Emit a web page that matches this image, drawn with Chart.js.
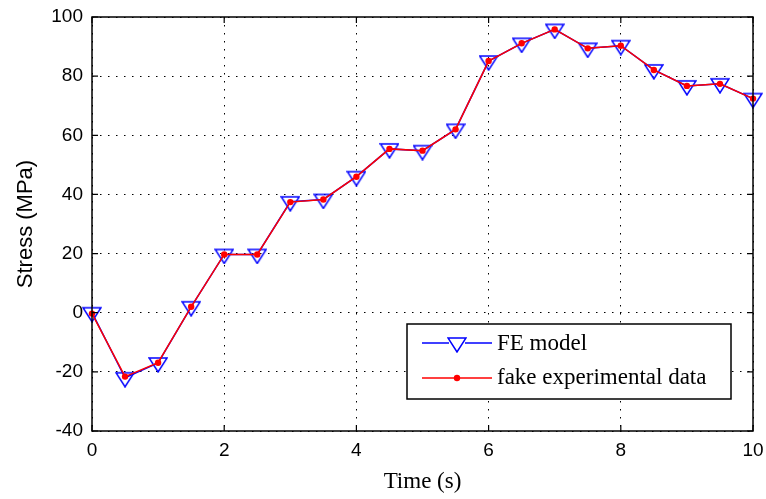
<!DOCTYPE html>
<html>
<head>
<meta charset="utf-8">
<script src="https://cdn.jsdelivr.net/npm/chart.js@4.4.1/dist/chart.umd.min.js"></script>
<style>
  html, body { margin: 0; padding: 0; background: #fff; }
  #wrap { width: 766px; height: 499px; }
</style>
</head>
<body>
<div id="wrap"><canvas id="chart" width="766" height="499"></canvas></div>
<script>
// time samples (s)
const times = [0, 0.5, 1, 1.5, 2, 2.5, 3, 3.5, 4, 4.5, 5, 5.5, 6, 6.5, 7, 7.5, 8, 8.5, 9, 9.5, 10];
// stress values (MPa)
const feModel = [0, -22, -17, 2, 19.7, 19.7, 37.5, 38.3, 46, 55.4, 54.8, 62, 85.1, 91.1, 95.8, 89.4, 90.3, 82.1, 76.7, 77.4, 72.4];
const fakeExp = [-0.3, -21.6, -16.9, 2, 19.7, 19.7, 37.4, 38.3, 46, 55.4, 54.8, 62, 85.1, 91.1, 95.8, 89.4, 90.3, 82.1, 76.7, 77.4, 72.4];
const xTicks = [0, 2, 4, 6, 8, 10];
const yTicks = [-40, -20, 0, 20, 40, 60, 80, 100];
const legendLabels = ['FE model', 'fake experimental data'];

const BLUE = '#0000ff';
const RED = '#ff0000';
const tickFont = { family: 'Liberation Sans, Arial, sans-serif', size: 19 };

// downward triangle marker; sits a little below its point, as in the picture
const triMarker = document.createElement('canvas');
triMarker.width = 20;
triMarker.height = 20;
(function () {
  const c = triMarker.getContext('2d');
  c.strokeStyle = BLUE;
  c.lineWidth = 1.5;
  c.beginPath();
  c.moveTo(1, 5);
  c.lineTo(19, 5);
  c.lineTo(10, 19);
  c.closePath();
  c.stroke();
})();

// box, inward ticks and the legend
const matlabAxes = {
  id: 'matlabAxes',
  afterDraw(chart) {
    const ctx = chart.ctx;
    const a = chart.chartArea;
    const xs = chart.scales.x, ys = chart.scales.y;
    ctx.save();
    ctx.strokeStyle = '#000';
    ctx.lineWidth = 1.5;
    ctx.strokeRect(a.left, a.top, a.right - a.left, a.bottom - a.top);
    ctx.lineWidth = 1.2;
    ctx.beginPath();
    xTicks.forEach(v => {
      const px = xs.getPixelForValue(v);
      ctx.moveTo(px, a.bottom); ctx.lineTo(px, a.bottom - 6);
      ctx.moveTo(px, a.top); ctx.lineTo(px, a.top + 6);
    });
    yTicks.forEach(v => {
      const py = ys.getPixelForValue(v);
      ctx.moveTo(a.left, py); ctx.lineTo(a.left + 6, py);
      ctx.moveTo(a.right, py); ctx.lineTo(a.right - 6, py);
    });
    ctx.stroke();

    // legend
    const bx = a.right - 346, by = a.bottom - 107, bw = 324, bh = 75;
    ctx.fillStyle = '#fff';
    ctx.fillRect(bx, by, bw, bh);
    ctx.lineWidth = 1.5;
    ctx.strokeRect(bx, by, bw, bh);
    const rows = [by + 19, by + 54];
    const lx1 = bx + 15, lx2 = bx + 85, mx = bx + 50;
    ctx.lineWidth = 1.5;
    ctx.strokeStyle = BLUE;
    ctx.beginPath(); ctx.moveTo(lx1, rows[0]); ctx.lineTo(lx2, rows[0]); ctx.stroke();
    ctx.fillStyle = '#fff';
    ctx.fillRect(mx - 8, rows[0] - 4, 16, 12);
    ctx.drawImage(triMarker, mx - 10, rows[0] - 10);
    ctx.strokeStyle = RED;
    ctx.beginPath(); ctx.moveTo(lx1, rows[1]); ctx.lineTo(lx2, rows[1]); ctx.stroke();
    ctx.fillStyle = RED;
    ctx.beginPath(); ctx.arc(mx, rows[1], 3.2, 0, Math.PI * 2); ctx.fill();

    ctx.fillStyle = '#000';
    ctx.font = '23px "Liberation Serif", "Times New Roman", serif';
    ctx.textBaseline = 'middle';
    ctx.textAlign = 'left';
    ctx.fillText(legendLabels[0], bx + 90, rows[0] + 1);
    ctx.fillText(legendLabels[1], bx + 90, rows[1]);
    ctx.restore();
  }
};

const ctx = document.getElementById('chart').getContext('2d');
new Chart(ctx, {
  type: 'line',
  data: {
    datasets: [{
      label: legendLabels[0],
      data: times.map((t, i) => ({ x: t, y: feModel[i] })),
      borderColor: BLUE,
      borderWidth: 1.5,
      pointStyle: triMarker,
      pointRadius: 9,
      tension: 0,
      clip: false,
      order: 2
    }, {
      label: legendLabels[1],
      data: times.map((t, i) => ({ x: t, y: fakeExp[i] })),
      borderColor: RED,
      borderWidth: 1.5,
      pointStyle: 'circle',
      pointRadius: 3.2,
      pointBorderWidth: 0,
      pointBackgroundColor: RED,
      tension: 0,
      clip: false,
      order: 1
    }]
  },
  options: {
    responsive: false,
    animation: false,
    events: [],
    layout: { padding: { top: 17, right: 13, bottom: 0, left: 0 } },
    plugins: {
      legend: { display: false },
      tooltip: { enabled: false }
    },
    scales: {
      x: {
        type: 'linear',
        min: 0,
        max: 10,
        afterBuildTicks(scale) { scale.ticks = xTicks.map(v => ({ value: v })); },
        afterFit(scale) {
          scale.height = 68;
          scale.paddingLeft = 0;
          scale.paddingRight = 0;
        },
        ticks: { color: '#000', font: tickFont, padding: 8, maxRotation: 0 },
        grid: { color: '#000', lineWidth: 1, drawTicks: false },
        border: { display: false, dash: [1.5, 6.5] },
        title: {
          display: true,
          text: 'Time (s)',
          color: '#000',
          font: { family: 'Liberation Serif, Times New Roman, serif', size: 23 },
          padding: { top: 0, bottom: 3 }
        }
      },
      y: {
        type: 'linear',
        min: -40,
        max: 100,
        afterBuildTicks(scale) { scale.ticks = yTicks.map(v => ({ value: v })); },
        afterFit(scale) {
          scale.width = 92;
          scale.paddingTop = 0;
          scale.paddingBottom = 0;
        },
        ticks: { color: '#000', font: tickFont, padding: 9 },
        grid: { color: '#000', lineWidth: 1, drawTicks: false },
        border: { display: false, dash: [1.5, 6.5] },
        title: {
          display: true,
          text: 'Stress (MPa)',
          color: '#000',
          font: { family: 'Liberation Sans, Arial, sans-serif', size: 22 },
          padding: { top: 13, bottom: 0 }
        }
      }
    }
  },
  plugins: [matlabAxes]
});
</script>
</body>
</html>
